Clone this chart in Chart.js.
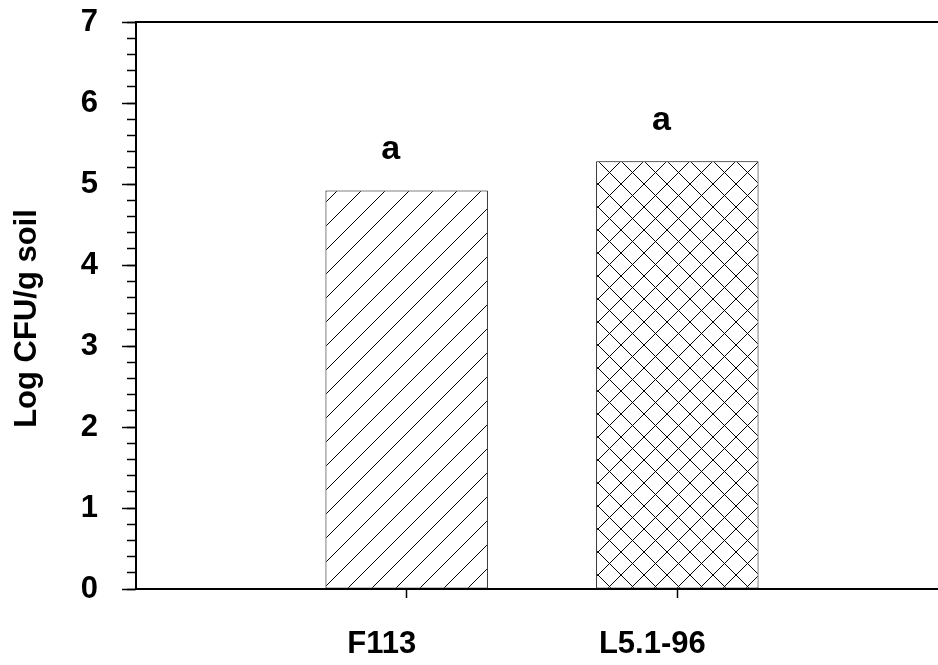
<!DOCTYPE html>
<html>
<head>
<meta charset="utf-8">
<script src="https://cdn.jsdelivr.net/npm/chart.js@4"></script>
<style>
  html, body { margin: 0; padding: 0; background: #fff; overflow: hidden; }
  #wrap { width: 938px; height: 665px; overflow: hidden; }
  canvas { display: block; }
</style>
</head>
<body>
<div id="wrap"><canvas id="chart" width="960" height="665"></canvas></div>
<script>
// Strains and their soil populations
const categories = ['F113', 'L5.1-96'];
const positions = [1, 2];
const logCfu = [4.92, 5.28];
const letters = ['a', 'a'];
const yTicks = [0, 1, 2, 3, 4, 5, 6, 7];
const yTitle = 'Log CFU/g soil';

const FAMILY = "'Liberation Sans', Arial, sans-serif";

// Build a repeating hatch fill: single diagonal or crossed diagonals
function hatch(size, cross) {
  const p = document.createElement('canvas');
  p.width = size; p.height = size;
  const g = p.getContext('2d');
  g.fillStyle = '#fff';
  g.fillRect(0, 0, size, size);
  g.strokeStyle = '#000';
  g.lineWidth = 1;
  g.beginPath();
  for (const k of [-size, 0, size]) {
    g.moveTo(k, size); g.lineTo(k + size, 0);
    if (cross) { g.moveTo(k, 0); g.lineTo(k + size, size); }
  }
  g.stroke();
  return g.createPattern(p, 'repeat');
}

// Keep the axis boxes at fixed sizes, without extra room for overhanging labels
function fixBox(w, h) {
  return s => {
    if (w !== null) s.width = w;
    if (h !== null) s.height = h;
    s.paddingTop = 0; s.paddingBottom = 0;
    s.paddingLeft = 0; s.paddingRight = 0;
  };
}

const ctx = document.getElementById('chart').getContext('2d');
const fills = [hatch(24, false), hatch(23, true)];

// Significance letters above each bar, and the rotated y-axis title
const annotate = {
  id: 'annotate',
  afterDatasetsDraw(chart) {
    const meta = chart.getDatasetMeta(0);
    const c = chart.ctx;
    c.save();
    c.font = 'bold 34px ' + FAMILY;
    c.fillStyle = '#000';
    c.textAlign = 'center';
    c.textBaseline = 'alphabetic';
    meta.data.forEach((bar, i) => {
      c.fillText(letters[i], bar.x - 16, bar.y - 31);
    });
    const area = chart.chartArea;
    c.font = 'bold 31px ' + FAMILY;
    c.translate(36, (area.top + area.bottom) / 2 + 13);
    c.rotate(-Math.PI / 2);
    c.fillText(yTitle, 0, 0);
    c.restore();
  }
};

new Chart(ctx, {
  type: 'bar',
  data: {
    datasets: [{
      data: positions.map((x, i) => ({ x: x, y: logCfu[i] })),
      backgroundColor: fills,
      borderColor: '#000',
      borderWidth: 1,
      borderSkipped: false,
      barPercentage: 0.6,
      categoryPercentage: 1
    }]
  },
  options: {
    responsive: false,
    animation: false,
    layout: { padding: { left: 0, right: 12, top: 0, bottom: 0 } },
    plugins: { legend: { display: false }, tooltip: { enabled: false } },
    scales: {
      x: {
        type: 'linear',
        position: 'bottom',
        offset: false,
        min: 0, max: 3,
        afterBuildTicks: s => { s.ticks = positions.map(v => ({ value: v })); },
        ticks: {
          callback: v => categories[positions.indexOf(v)],
          font: { family: FAMILY, size: 31, weight: 'bold' }, color: '#000',
          padding: 28, labelOffset: -25,
          maxRotation: 0, autoSkip: false
        },
        grid: { offset: false, drawOnChartArea: false, tickLength: 9, tickWidth: 1.5, tickColor: '#000' },
        border: { color: '#000', width: 2 },
        afterFit: fixBox(null, 76)
      },
      xTop: {
        type: 'linear',
        position: 'top',
        offset: false,
        min: 0, max: 3,
        ticks: { display: false },
        grid: { offset: false, drawOnChartArea: false, drawTicks: false },
        border: { color: '#000', width: 2 },
        afterFit: fixBox(null, 22)
      },
      y: {
        position: 'left',
        weight: 1,
        min: 0, max: 7,
        afterBuildTicks: s => { s.ticks = yTicks.map(v => ({ value: v })); },
        ticks: { font: { family: FAMILY, size: 31, weight: 'bold' }, color: '#000', padding: 24 },
        grid: { drawOnChartArea: false, tickLength: 14, tickWidth: 1.5, tickColor: '#000' },
        border: { color: '#000', width: 2 },
        afterFit: fixBox(136, null)
      },
      yMinor: {
        position: 'left',
        weight: 0,
        min: 0, max: 7,
        afterBuildTicks: s => {
          const t = [];
          for (let i = 0; i <= 35; i++) t.push({ value: i / 5 });
          s.ticks = t;
        },
        ticks: { display: false },
        grid: { drawOnChartArea: false, tickLength: 9, tickWidth: 1.5, tickColor: '#000' },
        border: { display: false },
        afterFit: fixBox(0, null)
      }
    }
  },
  plugins: [annotate]
});
</script>
</body>
</html>
